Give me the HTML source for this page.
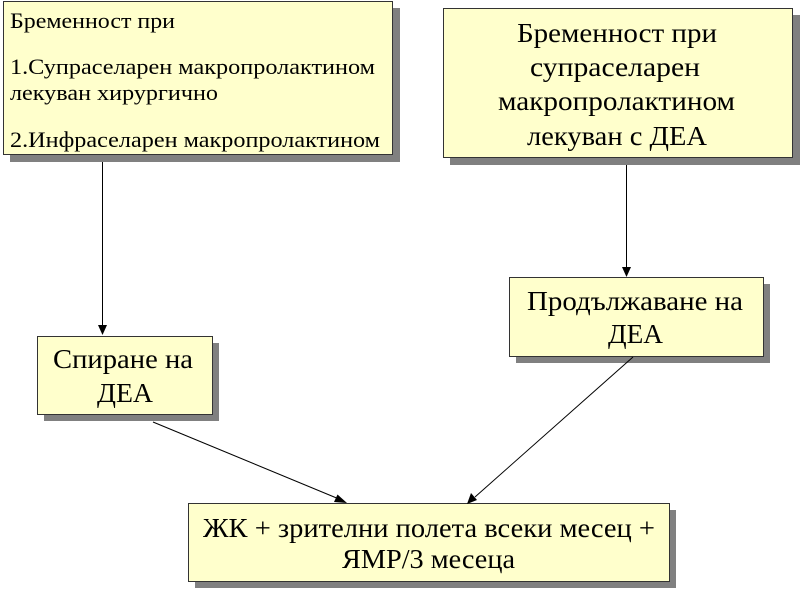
<!DOCTYPE html>
<html>
<head>
<meta charset="utf-8">
<style>
html,body{margin:0;padding:0;background:#ffffff;}
svg{display:block;}
text{font-family:"Liberation Serif","Noto Serif CJK SC",serif;fill:#000;}
</style>
</head>
<body>
<svg width="800" height="590" viewBox="0 0 800 590" xmlns="http://www.w3.org/2000/svg">
  <!-- shadows -->
  <rect x="10" y="8" width="390" height="154" fill="#808080"/>
  <rect x="450" y="15" width="350" height="150" fill="#808080"/>
  <rect x="44" y="343" width="175" height="78" fill="#808080"/>
  <rect x="516" y="284" width="254" height="79" fill="#808080"/>
  <rect x="195" y="510" width="481" height="78" fill="#808080"/>

  <!-- boxes -->
  <rect x="3.5" y="1.5" width="389" height="153" fill="#ffffcc" stroke="#333" stroke-width="1"/>
  <rect x="443.5" y="8.5" width="349" height="149" fill="#ffffcc" stroke="#333" stroke-width="1"/>
  <rect x="37.5" y="336.5" width="175" height="78" fill="#ffffcc" stroke="#333" stroke-width="1"/>
  <rect x="509.5" y="277.5" width="254" height="79" fill="#ffffcc" stroke="#333" stroke-width="1"/>
  <rect x="188.5" y="503.5" width="481" height="78" fill="#ffffcc" stroke="#333" stroke-width="1"/>

  <!-- connectors -->
  <g stroke="#000" stroke-width="1" fill="none">
    <line x1="102.5" y1="162" x2="102.5" y2="326"/>
    <line x1="626.5" y1="165" x2="626.5" y2="268"/>
    <line x1="153" y1="422" x2="339" y2="499"/>
    <line x1="633" y1="357" x2="475" y2="497"/>
  </g>
  <g fill="#000">
    <polygon points="98,325 107,325 102.5,335"/>
    <polygon points="622,267 631,267 626.5,277"/>
    <polygon points="337.5,494.5 334,502 347,503"/>
    <polygon points="471,493 477,500 467,504"/>
  </g>

  <!-- box 1 text -->
  <text x="10" y="28" font-size="22" textLength="165" lengthAdjust="spacingAndGlyphs">Бременност при</text>
  <text x="10" y="74" font-size="22" textLength="365" lengthAdjust="spacingAndGlyphs">1.Супраселарен макропролактином</text>
  <text x="10" y="100" font-size="22" textLength="208" lengthAdjust="spacingAndGlyphs">лекуван хирургично</text>
  <text x="10" y="147" font-size="22" textLength="370" lengthAdjust="spacingAndGlyphs">2.Инфраселарен макропролактином</text>

  <!-- box 2 text -->
  <text x="517" y="42" font-size="27" textLength="200" lengthAdjust="spacingAndGlyphs">Бременност при</text>
  <text x="530" y="76" font-size="27" textLength="170" lengthAdjust="spacingAndGlyphs">супраселарен</text>
  <text x="498" y="110" font-size="27" textLength="237" lengthAdjust="spacingAndGlyphs">макропролактином</text>
  <text x="527" y="145" font-size="27" textLength="180" lengthAdjust="spacingAndGlyphs">лекуван с ДЕА</text>

  <!-- box 3 text -->
  <text x="53" y="368" font-size="27" textLength="140" lengthAdjust="spacingAndGlyphs">Спиране на</text>
  <text x="97" y="402" font-size="27" textLength="56" lengthAdjust="spacingAndGlyphs">ДЕА</text>

  <!-- box 4 text -->
  <text x="527" y="310" font-size="27" textLength="216" lengthAdjust="spacingAndGlyphs">Продължаване на</text>
  <text x="608" y="343" font-size="27" textLength="55" lengthAdjust="spacingAndGlyphs">ДЕА</text>

  <!-- box 5 text -->
  <text x="203" y="537" font-size="27" textLength="452" lengthAdjust="spacingAndGlyphs">ЖК + зрителни полета всеки месец +</text>
  <text x="342" y="568" font-size="27" textLength="173" lengthAdjust="spacingAndGlyphs">ЯМР/3 месеца</text>
</svg>
</body>
</html>
